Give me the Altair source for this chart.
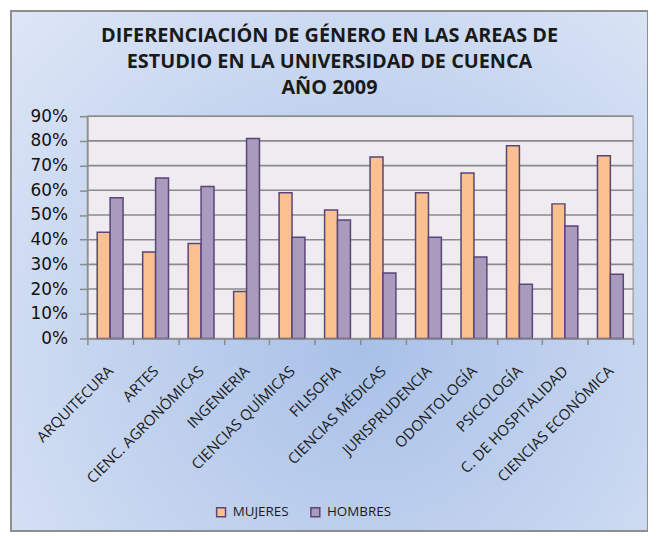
import altair as alt
import pandas as pd

categories = ["ARQUITECURA", "ARTES", "CIENC. AGRONÓMICAS", "INGENIERIA",
              "CIENCIAS QUÍMICAS", "FILISOFIA", "CIENCIAS MÉDICAS", "JURISPRUDENCIA",
              "ODONTOLOGÍA", "PSICOLOGÍA", "C. DE HOSPITALIDAD", "CIENCIAS ECONÓMICA"]
mujeres = [43, 35, 38.5, 19, 59, 52, 73.5, 59, 67, 78, 54.5, 74]
hombres = [57, 65, 61.5, 81, 41, 48, 26.5, 41, 33, 22, 45.5, 26]
series = ["MUJERES", "HOMBRES"]
y_ticks = [0, 10, 20, 30, 40, 50, 60, 70, 80, 90]
title_lines = ["DIFERENCIACIÓN DE GÉNERO EN LAS AREAS DE",
               "ESTUDIO EN LA UNIVERSIDAD DE CUENCA",
               "AÑO 2009"]

rows = []
for c, m, h in zip(categories, mujeres, hombres):
    rows.append({"area": c, "genero": "MUJERES", "valor": m / 100})
    rows.append({"area": c, "genero": "HOMBRES", "valor": h / 100})
df = pd.DataFrame(rows)
grid_df = pd.DataFrame({"valor": [t / 100 for t in y_ticks[1:]]})
one = pd.DataFrame({"k": [0]})

W, H = 550, 224

bg = alt.Chart(one).mark_rect(
    fill=alt.Gradient(
        gradient="radial",
        stops=[alt.GradientStop(color="#A8C0E7", offset=0),
               alt.GradientStop(color="#DDE6F6", offset=1)],
        x1=0.55, y1=0.62, r1=0, x2=0.55, y2=0.62, r2=0.75),
    stroke="#8E8E8E", strokeWidth=2
).encode(x=alt.value(-77), x2=alt.value(565), y=alt.value(-106), y2=alt.value(418))

plot_bg = alt.Chart(one).mark_rect(
    fill="#EEECF1", stroke="#A8A8A8", strokeWidth=1.5
).encode(x=alt.value(0), x2=alt.value(W), y=alt.value(0), y2=alt.value(H))

yscale = alt.Scale(domain=[0, 0.9], nice=False)
yaxis = alt.Axis(values=[t / 100 for t in y_ticks], format=".0%",
                 labelFont="DejaVu Sans", labelFontSize=17, labelColor="#111111",
                 labelPadding=12, tickSize=8, tickColor="#8A8A8A", tickWidth=1.5,
                 domainColor="#8A8A8A", domainWidth=1.5, grid=False, zindex=1)

grid = alt.Chart(grid_df).mark_rule(color="#8A8A8A", strokeWidth=1.6).encode(
    y=alt.Y("valor:Q", scale=yscale, axis=yaxis, title=None),
    x=alt.value(0), x2=alt.value(W)
)

bars = alt.Chart(df).mark_bar(stroke="#5A4478", strokeWidth=1.5).encode(
    x=alt.X("area:N", sort=categories, title=None,
            scale=alt.Scale(paddingInner=0, paddingOuter=0),
            axis=alt.Axis(labelAngle=315, labelFont="Open Sans", labelFontSize=15,
                          labelColor="#1a1a1a", labelPadding=19, labelOffset=-5,
                          tickBand="extent",
                          tickSize=6, tickColor="#8A8A8A", tickWidth=1.5,
                          domainColor="#8A8A8A", domainWidth=1.5, grid=False,
                          zindex=1, labelOverlap=False)),
    xOffset=alt.XOffset("genero:N", sort=series,
                        scale=alt.Scale(paddingOuter=0.76, paddingInner=0)),
    y=alt.Y("valor:Q", scale=yscale, title=None, axis=yaxis),
    color=alt.Color("genero:N", sort=series,
                    scale=alt.Scale(domain=series, range=["#FAC090", "#A99BBD"]),
                    legend=alt.Legend(title=None, orient="none", direction="horizontal",
                                      legendX=128, legendY=392, symbolType="square",
                                      symbolSize=80, symbolStrokeColor="#5A4478",
                                      symbolStrokeWidth=1.5, symbolOpacity=1,
                                      labelFont="Open Sans", labelFontSize=13.5,
                                      labelColor="#1a1a1a", labelOffset=5,
                                      columnPadding=19, padding=0, zindex=1))
)

chart = alt.layer(bg, plot_bg, grid, bars).properties(
    width=W, height=H,
    autosize=alt.AutoSizeParams(type="none"),
    padding={"left": 80, "top": 107, "right": 15, "bottom": 193},
    title=alt.TitleParams(text=title_lines, font="Open Sans", fontSize=20,
                          fontWeight="bold", color="#1a1a1a", anchor="middle",
                          frame="group", dx=-31, dy=89, offset=0, lineHeight=26.5,
                          zindex=1)
).configure_view(stroke=None)

chart.save("out.html", embed_options={"renderer": "svg", "actions": False})
